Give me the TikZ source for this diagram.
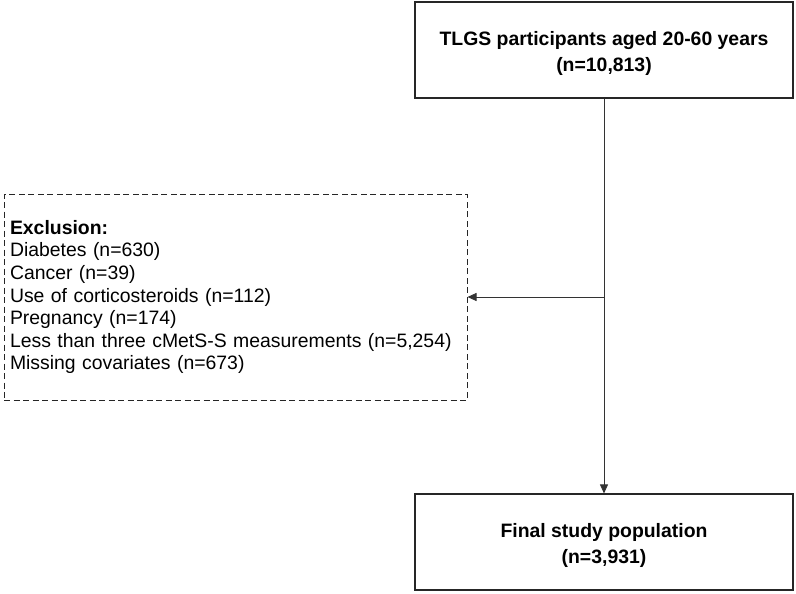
\documentclass[tikz,border=0pt]{standalone}
\usepackage{fontspec}
\setmainfont{Liberation Sans}
\usetikzlibrary{arrows.meta}
\begin{document}
\begin{tikzpicture}[x=1pt,y=-1pt,
  every node/.style={font=\fontsize{19.4}{22.6}\selectfont, text=black},
  solidbox/.style={draw=black!85, line width=1.1pt, minimum width=378pt, minimum height=96pt, inner sep=0pt, align=center, font=\fontsize{19.4}{25.8}\selectfont\bfseries},
  exclbox/.style={draw=black!85, line width=1pt, dash pattern=on 6pt off 3.5pt, minimum width=463pt, minimum height=206pt, inner xsep=6pt, inner ysep=0pt, text width=451pt, align=left},
  conn/.style={draw=black!80, line width=0.8pt, -{Triangle[length=9pt,width=8pt]}}
]
\useasboundingbox (0,0) rectangle (796,594);
\node[solidbox] (top) at (604,50) {\rule{0pt}{21pt}TLGS participants aged 20-60 years\\(n=10,813)};
\node[exclbox] (excl) at (235.5,297) {\textbf{Exclusion:}\\Diabetes (n=630)\\Cancer (n=39)\\Use of corticosteroids (n=112)\\Pregnancy (n=174)\\Less than three cMetS-S measurements (n=5,254)\\Missing covariates (n=673)};
\node[solidbox] (bot) at (604,542) {\rule{0pt}{21pt}Final study population\\(n=3,931)};
\coordinate (j) at (top.south |- excl.east);
\draw[conn] (top.south) -- (bot.north);
\draw[conn] (j) -- (excl.east);
\end{tikzpicture}
\end{document}
